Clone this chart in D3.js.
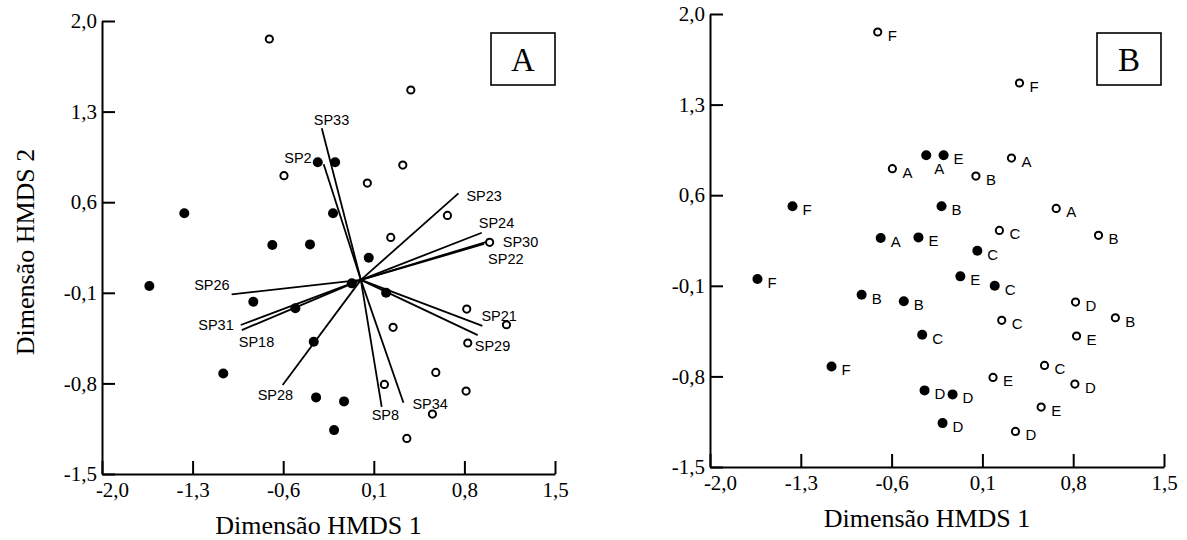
<!DOCTYPE html>
<html>
<head>
<meta charset="utf-8">
<script src="https://cdn.jsdelivr.net/npm/d3@7"></script>
<style>
  body { margin: 0; background: #fff; }
  text { fill: #000; }
</style>
</head>
<body>
<svg id="chart"></svg>
<script>
// tick values (both panels share them)
var xTicks = [-2.0, -1.3, -0.6, 0.1, 0.8, 1.5];
var yTicks = [2.0, 1.3, 0.6, -0.1, -0.8, -1.5];

// open circles: HMDS coordinates and group labels (panel B)
var openX = [-0.707, 0.386, -0.594, 0.324, 0.050, 0.669, 0.231, 0.995, 0.818, 1.125, 0.249, 0.826, 0.579, 0.182, 0.813, 0.553, 0.355];
var openY = [1.861, 1.467, 0.805, 0.887, 0.748, 0.498, 0.328, 0.290, -0.226, -0.347, -0.367, -0.488, -0.715, -0.808, -0.859, -1.037, -1.225];
var openLab = ["F", "F", "A", "A", "B", "A", "C", "B", "D", "B", "C", "E", "C", "E", "D", "E", "D"];

// filled circles
var fillX = [-1.364, -0.684, -0.333, -0.199, -0.215, -0.393, 0.061, -1.634, -0.831, -0.506, -0.070, 0.195, -0.364, -1.063, -0.346, -0.130, -0.207];
var fillY = [0.514, 0.269, 0.908, 0.908, 0.514, 0.274, 0.171, -0.048, -0.169, -0.220, -0.027, -0.100, -0.478, -0.723, -0.908, -0.939, -1.161];
var fillLab = ["F", "A", "A", "E", "B", "E", "C", "F", "B", "B", "E", "C", "C", "F", "D", "D", "D"];

// species vectors (panel A), from origin
var spName = ["SP33", "SP2", "SP23", "SP24", "SP30", "SP22", "SP26", "SP31", "SP18", "SP28", "SP8", "SP34", "SP21", "SP29"];
var spX = [-0.302, -0.287, 0.754, 0.934, 0.973, 0.952, -0.998, -0.928, -0.920, -0.604, 0.161, 0.329, 0.939, 0.903];
var spY = [1.171, 0.893, 0.668, 0.364, 0.294, 0.277, -0.112, -0.349, -0.388, -0.813, -0.981, -0.950, -0.355, -0.427];

// label placement for the vectors (pixels from the arrow tip)
var spPlace = {
  SP33: [-8, -3, "start"], SP2: [-12, -1, "end"], SP23: [8, 8, "start"],
  SP24: [-3, -5, "start"], SP30: [16, 5, "start"], SP22: [4, 20, "start"],
  SP26: [-2, -4, "end"], SP31: [-7, 5, "end"], SP18: [-3, 17, "start"],
  SP28: [-25, 15, "start"], SP8: [-10, 13, "start"], SP34: [9, 6, "start"],
  SP21: [-1, -5, "start"], SP29: [-3, 16, "start"]
};

var W = 1187, H = 540;
var serif = "'Liberation Serif', 'Times New Roman', serif";
var sans = "'Liberation Sans', Arial, sans-serif";
var fmt = function (d) { return d3.format(".1f")(d).replace(".", ",").replace("\u2212", "-"); };

var svg = d3.select("#chart").attr("width", W).attr("height", H);

function panel(x0, x1, y0, y1, letter, boxX, boxY) {
  var g = svg.append("g");
  var x = d3.scaleLinear().domain([-2, 1.5]).range([x0, x1]);
  var y = d3.scaleLinear().domain([-1.5, 2]).range([y1, y0]);

  var xAxis = d3.axisBottom(x).tickValues(xTicks).tickFormat(fmt)
    .tickSizeInner(-13).tickSizeOuter(0).tickPadding(8);
  var yAxis = d3.axisLeft(y).tickValues(yTicks).tickFormat(fmt)
    .tickSizeInner(-13).tickSizeOuter(0).tickPadding(5);

  var gx = g.append("g").attr("transform", "translate(0," + y1 + ")").call(xAxis);
  var gy = g.append("g").attr("transform", "translate(" + x0 + ",0)").call(yAxis);
  [gx, gy].forEach(function (a) {
    a.selectAll("path, line").attr("stroke", "#000").attr("stroke-width", 2);
    a.selectAll("text").attr("font-family", serif).attr("font-size", 21).attr("fill", "#000");
  });
  gx.select(".tick text").attr("dx", 10);

  g.append("text")
    .attr("x", (x0 + x1) / 2 - 10).attr("y", y1 + 60)
    .attr("text-anchor", "middle")
    .attr("font-family", serif).attr("font-size", 26)
    .text("Dimensão HMDS 1");

  g.append("rect")
    .attr("x", boxX).attr("y", boxY).attr("width", 64).attr("height", 52)
    .attr("fill", "none").attr("stroke", "#000").attr("stroke-width", 1.6);
  g.append("text")
    .attr("x", boxX + 32).attr("y", boxY + 38)
    .attr("text-anchor", "middle")
    .attr("font-family", serif).attr("font-size", 33)
    .text(letter);

  return { g: g, x: x, y: y };
}

// ---- panel A
var A = panel(102, 555, 21, 474, "A", 491, 33);

svg.append("text")
  .attr("transform", "translate(34,252) rotate(-90)")
  .attr("text-anchor", "middle")
  .attr("font-family", serif).attr("font-size", 26)
  .text("Dimensão HMDS 2");

var vec = spName.map(function (n, i) { return { name: n, x: spX[i], y: spY[i] }; });

A.g.selectAll(".vec").data(vec).enter().append("line")
  .attr("x1", A.x(0)).attr("y1", A.y(0))
  .attr("x2", function (d) { return A.x(d.x); })
  .attr("y2", function (d) { return A.y(d.y); })
  .attr("stroke", "#000").attr("stroke-width", 1.8);

A.g.selectAll(".vlab").data(vec).enter().append("text")
  .attr("x", function (d) { return A.x(d.x) + spPlace[d.name][0]; })
  .attr("y", function (d) { return A.y(d.y) + spPlace[d.name][1]; })
  .attr("text-anchor", function (d) { return spPlace[d.name][2]; })
  .attr("font-family", sans).attr("font-size", 14.5)
  .text(function (d) { return d.name; });

function points(P, withLabels) {
  var open = openX.map(function (v, i) { return { x: v, y: openY[i], lab: openLab[i] }; });
  var fill = fillX.map(function (v, i) { return { x: v, y: fillY[i], lab: fillLab[i], i: i }; });

  P.g.selectAll(".op").data(open).enter().append("circle")
    .attr("cx", function (d) { return P.x(d.x); })
    .attr("cy", function (d) { return P.y(d.y); })
    .attr("r", 3.6).attr("fill", "#fff").attr("stroke", "#000").attr("stroke-width", 2);

  P.g.selectAll(".fp").data(fill).enter().append("circle")
    .attr("cx", function (d) { return P.x(d.x); })
    .attr("cy", function (d) { return P.y(d.y); })
    .attr("r", 5).attr("fill", "#000");

  if (!withLabels) return;
  var all = open.concat(fill);
  P.g.selectAll(".pl").data(all).enter().append("text")
    .attr("x", function (d) { return P.x(d.x) + (d.i === 2 ? 8 : 10); })
    .attr("y", function (d) { return P.y(d.y) + (d.i === 2 ? 19 : 9); })
    .attr("font-family", sans).attr("font-size", 15)
    .text(function (d) { return d.lab; });
}

points(A, false);

// ---- panel B
var B = panel(710, 1164, 14, 467, "B", 1097, 33);
points(B, true);
</script>
</body>
</html>
